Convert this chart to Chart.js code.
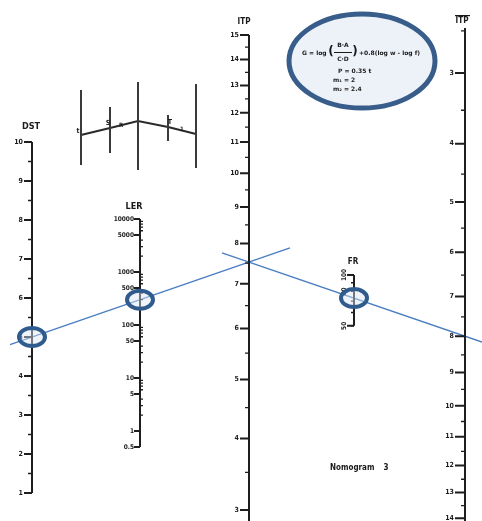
<!DOCTYPE html>
<html>
<head>
<meta charset="utf-8">
<script src="https://cdn.jsdelivr.net/npm/chart.js@4/dist/chart.umd.min.js"></script>
<style>
html, body { margin: 0; padding: 0; background: #fff; }
#wrap { width: 482px; height: 521px; }
</style>
</head>
<body>
<div id="wrap"><canvas id="nomo" width="482" height="521"></canvas></div>
<script>
// scale values of the nomogram
const dstTicks = [1, 2, 3, 4, 5, 6, 7, 8, 9, 10];
const dstMinor = [1.5, 2.5, 3.5, 4.5, 5.5, 6.5, 7.5, 8.5, 9.5];
const lerTicks = [0.5, 1, 5, 10, 50, 100, 500, 1000, 5000, 10000];
const lerLabels = ['0.5', '1', '5', '10', '50', '100', '500', '1000', '5000', '10000'];
const lerMinor = [2, 3, 4, 6, 7, 8, 9, 20, 30, 40, 60, 70, 80, 90, 200, 300, 400, 600, 700, 800, 900, 2000, 3000, 4000, 6000, 7000, 8000, 9000];
const itpTicks = [3, 4, 5, 6, 7, 8, 9, 10, 11, 12, 13, 14, 15];
const itpMinor = [3.5, 4.5, 5.5, 6.5, 7.5, 8.5, 9.5, 10.5, 11.5, 12.5, 13.5, 14.5];
const itpBarTicks = [3, 4, 5, 6, 7, 8, 9, 10, 11, 12, 13, 14];
const itpBarMinor = [2.5, 3.5, 4.5, 5.5, 6.5, 7.5, 8.5, 9.5, 10.5, 11.5, 12.5, 13.5];
const frTicks = [50, 60, 70, 80, 90, 100];
const frLabels = [50, 80, 100];

// the worked example read on the nomogram
const readDst = 5;
const readLer = 300;
const readFr = 73;

// where each scale sits on the sheet
const DST_X = 32, LER_X = 140, ITP_X = 249, FR_X = 354, ITPB_X = 465;
const dstY = v => 493 - (v - 1) * 39;
const lerY = v => 431 - 53 * Math.log10(v);
const itpY = v => 510 - 728.5 * (Math.pow(v, 0.25) - Math.pow(3, 0.25));
const itpBarY = v => 73 + 720 * (Math.pow(v, 0.25) - Math.pow(3, 0.25));
const frY = v => 275 + 169 * (2 - Math.log10(v));

function segs(list) {
    var out = [];
    list.forEach(function (s) {
        out.push({x: s[0], y: s[1]}, {x: s[2], y: s[3]}, {x: null, y: null});
    });
    return out;
}

function ticks(x, fn, vals, left, right) {
    return vals.map(function (v) { return [x - left, fn(v), x + right, fn(v)]; });
}

function lineDs(data, color, width) {
    return {data: data, showLine: true, borderColor: color, borderWidth: width,
        pointRadius: 0, spanGaps: false, fill: false};
}

const ink = '#1e1e1e';

// reading lines
const p1 = {x: DST_X, y: dstY(readDst)};
const p2 = {x: LER_X, y: lerY(readLer)};
const k1 = (p2.y - p1.y) / (p2.x - p1.x);
const cross = {x: ITP_X, y: p1.y + k1 * (ITP_X - p1.x)};
const p3 = {x: FR_X, y: frY(readFr)};
const k2 = (p3.y - cross.y) / (p3.x - cross.x);

const datasets = [
    // axis lines
    lineDs(segs([
        [DST_X, dstY(10), DST_X, dstY(1)],
        [LER_X, lerY(10000), LER_X, lerY(0.5)],
        [ITP_X, itpY(15), ITP_X, 522],
        [ITPB_X, 28, ITPB_X, 522],
        [FR_X, frY(100), FR_X, frY(50)]
    ]), ink, 2),
    // major ticks
    lineDs(segs([].concat(
        ticks(DST_X, dstY, dstTicks, 8, 0),
        ticks(LER_X, lerY, lerTicks, 6, 0),
        ticks(ITP_X, itpY, itpTicks, 9, 0),
        ticks(ITPB_X, itpBarY, itpBarTicks, 10, 0),
        ticks(FR_X, frY, [50, 100], 7, 0)
    )), ink, 2),
    // minor ticks
    lineDs(segs([].concat(
        ticks(DST_X, dstY, dstMinor, 4, 0),
        ticks(LER_X, lerY, lerMinor, 0, 3),
        ticks(ITP_X, itpY, itpMinor, 4, 0),
        ticks(ITPB_X, itpBarY, itpBarMinor, 4, 0),
        ticks(FR_X, frY, frTicks, 3, 0)
    )), ink, 1.3),
    // little sketch of the sample points
    lineDs(segs([
        [81, 90, 81, 165], [110, 107, 110, 153], [138, 82, 138, 170],
        [168, 115, 168, 141], [196, 84, 196, 168]
    ]), '#3a3a3a', 2),
    lineDs([{x: 81, y: 135}, {x: 110, y: 128}, {x: 138, y: 121}, {x: 168, y: 127}, {x: 196, y: 134}], '#2a2a2a', 2),
    // reading lines
    lineDs([{x: 10, y: p1.y + k1 * (10 - p1.x)}, {x: 290, y: p1.y + k1 * (290 - p1.x)}], '#4a7ec2', 1.4),
    lineDs([{x: 222, y: cross.y + k2 * (222 - cross.x)}, {x: 482, y: cross.y + k2 * (482 - cross.x)}], '#4a7ec2', 1.4)
];

// texts
const texts = [];
function lab(t, x, y, size, align) { texts.push({t: t, x: x, y: y, size: size, align: align || 'right'}); }
dstTicks.forEach(function (v) { lab(String(v), DST_X - 9, dstY(v), 7); });
lerTicks.forEach(function (v, i) { lab(lerLabels[i], LER_X - 6, lerY(v), 6.5); });
itpTicks.forEach(function (v) { lab(String(v), ITP_X - 10, itpY(v), 7); });
itpBarTicks.forEach(function (v) { lab(String(v), ITPB_X - 11, itpBarY(v), 7); });
lab('DST', 31, 127, 9, 'center');
lab('LER', 134, 207, 9, 'center');
lab('ITP', 244, 22, 8, 'center');
lab('ITP', 462, 21, 8, 'center');
lab('FR', 353, 262, 8, 'center');
lab('t', 78, 131, 7, 'center');
lab('S', 108, 123, 7, 'center');
lab('R', 121, 125, 6, 'center');
lab('T', 170, 122, 7, 'center');
lab('1', 182, 129, 6, 'center');
lab('Nomogram', 330, 468, 8, 'left');
lab('3', 386, 468, 8, 'center');

const drawing = {
    id: 'drawing',
    beforeDatasetsDraw(chart) {
        const c = chart.ctx, sx = chart.scales.x, sy = chart.scales.y;
        const px = v => sx.getPixelForValue(v), py = v => sy.getPixelForValue(v);
        c.save();
        // formula oval
        c.beginPath();
        c.ellipse(px(362), py(61), 73, 47, 0, 0, Math.PI * 2);
        c.fillStyle = '#edf1f8';
        c.fill();
        c.lineWidth = 5;
        c.strokeStyle = '#385d8a';
        c.stroke();
        c.fillStyle = '#1a1a1a';
        c.font = 'bold 6px "DejaVu Sans"';
        c.textBaseline = 'middle';
        c.textAlign = 'left';
        c.fillText('G = log', px(302), py(53));
        c.textAlign = 'center';
        c.fillText('B·A', px(343), py(45));
        c.fillText('C·D', px(343), py(59));
        c.fillRect(px(334), py(52), 18, 1);
        c.font = 'bold 12px "DejaVu Sans"';
        c.fillText('(', px(331), py(52));
        c.fillText(')', px(355), py(52));
        c.font = 'bold 6px "DejaVu Sans"';
        c.textAlign = 'left';
        c.fillText('+0.8(log w - log f)', px(359), py(53));
        c.fillText('P = 0.35 t', px(338), py(71));
        c.fillText('m\u2081 = 2', px(333), py(80));
        c.fillText('m\u2082 = 2.4', px(333), py(89));
        c.restore();
    },
    afterDatasetsDraw(chart) {
        const c = chart.ctx, sx = chart.scales.x, sy = chart.scales.y;
        const px = v => sx.getPixelForValue(v), py = v => sy.getPixelForValue(v);
        c.save();
        c.fillStyle = '#1a1a1a';
        c.textBaseline = 'middle';
        texts.forEach(function (t) {
            c.font = 'bold ' + t.size + 'px "DejaVu Sans Condensed", "DejaVu Sans"';
            c.textAlign = t.align;
            c.fillText(t.t, px(t.x), py(t.y));
        });
        // FR labels stand on their side
        c.font = 'bold 6.5px "DejaVu Sans Condensed", "DejaVu Sans"';
        c.textAlign = 'center';
        frLabels.forEach(function (v) {
            c.save();
            c.translate(px(FR_X - 10), py(frY(v)));
            c.rotate(-Math.PI / 2);
            c.fillText(String(v), 0, 0);
            c.restore();
        });
        // overline on the right ITP title
        c.fillRect(px(455), py(15), 15, 1.2);
        // rings round the read values
        [[DST_X, dstY(readDst)], [LER_X, lerY(readLer)], [FR_X, frY(readFr)]].forEach(function (p) {
            c.beginPath();
            c.ellipse(px(p[0]), py(p[1]), 13, 9, 0, 0, Math.PI * 2);
            c.fillStyle = 'rgba(220,230,244,0.45)';
            c.fill();
            c.lineWidth = 4;
            c.strokeStyle = '#2f5b8d';
            c.stroke();
        });
        c.restore();
    }
};

const ctx = document.getElementById('nomo');
new Chart(ctx, {
    type: 'scatter',
    data: {datasets: datasets},
    options: {
        responsive: false,
        animation: false,
        layout: {padding: 0},
        plugins: {legend: {display: false}, tooltip: {enabled: false}},
        scales: {
            x: {type: 'linear', min: 0, max: 482, display: false},
            y: {type: 'linear', min: 0, max: 521, reverse: true, display: false}
        }
    },
    plugins: [drawing]
});
</script>
</body>
</html>
